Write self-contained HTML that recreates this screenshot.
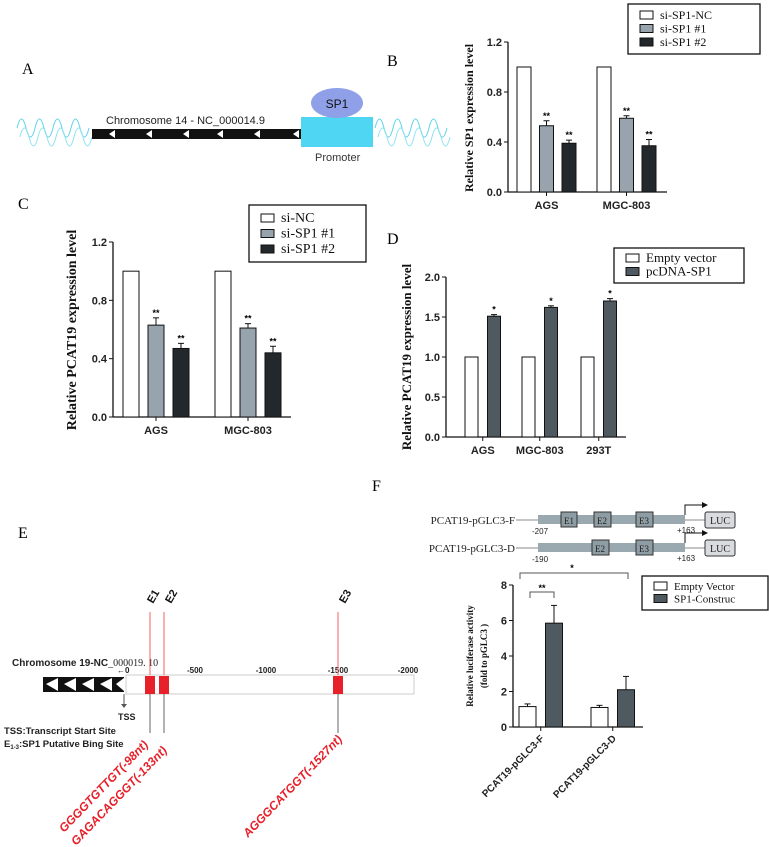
<!DOCTYPE html>
<html><head><meta charset="utf-8"><style>
html,body{margin:0;padding:0;background:#fff}
svg{display:block}
.serif{font-family:"Liberation Serif",serif}
.sans{font-family:"Liberation Sans",sans-serif}
.tick{font-family:"Liberation Sans",sans-serif;font-weight:bold;fill:#222}
</style></head><body>
<svg id="fig" width="769" height="847" viewBox="0 0 769 847" xmlns="http://www.w3.org/2000/svg">
<!-- Panel A -->
<g>
<text x="22" y="74" class="serif" font-size="16">A</text>
<path d="M17,128 q4.5,-18 9,0 t9,0 t9,0 t9,0 t9,0 t9,0 t9,0 t9,0" fill="none" stroke="#5fd3e8" stroke-width="1"/>
<path d="M20,137 q4.5,-18 9,0 t9,0 t9,0 t9,0 t9,0 t9,0 t9,0 t9,0" fill="none" stroke="#8fe3f0" stroke-width="1"/>
<path d="M375,128 q4.5,-18 9,0 t9,0 t9,0 t9,0 t9,0 t9,0 t9,0 t9,0" fill="none" stroke="#5fd3e8" stroke-width="1"/>
<path d="M378,137 q4.5,-18 9,0 t9,0 t9,0 t9,0 t9,0 t9,0 t9,0 t9,0" fill="none" stroke="#8fe3f0" stroke-width="1"/>
<rect x="92" y="129" width="209" height="10" fill="#111"/>
<g fill="#fff">
<polygon points="115,130 109,134 115,138"/><polygon points="152,130 146,134 152,138"/><polygon points="189,130 183,134 189,138"/><polygon points="223,130 217,134 223,138"/><polygon points="260,130 254,134 260,138"/><polygon points="299,130 293,134 299,138"/>
</g>
<text x="106" y="124" class="sans" font-size="11" fill="#222">Chromosome 14 - NC_000014.9</text>
<rect x="301" y="117" width="72" height="30" fill="#4fd6f2"/>
<ellipse cx="337" cy="103" rx="26" ry="15" fill="#8fa0e8"/>
<text x="337" y="108" text-anchor="middle" class="sans" font-size="12" fill="#111">SP1</text>
<text x="315" y="161" class="sans" font-size="11" fill="#333">Promoter</text>
</g>
<text x="387" y="66" class="serif" font-size="16">B</text>
<text x="18" y="209" class="serif" font-size="16">C</text>
<text x="387" y="244" class="serif" font-size="16">D</text>
<text x="18" y="538" class="serif" font-size="16">E</text>
<text x="372" y="491" class="serif" font-size="16">F</text>

<!-- Panel E -->
<g>
<text x="12" y="666" class="sans" font-size="10" font-weight="bold" fill="#222">Chromosome 19-NC<tspan class="serif" font-weight="normal">_000019. 10</tspan></text>
<text x="117" y="673" class="tick" style="font-size:8px">←0</text>
<text x="195" y="673" class="tick" style="font-size:8px" text-anchor="middle">-500</text>
<text x="266" y="673" class="tick" style="font-size:8px" text-anchor="middle">-1000</text>
<text x="338" y="673" class="tick" style="font-size:8px" text-anchor="middle">-1500</text>
<text x="408" y="673" class="tick" style="font-size:8px" text-anchor="middle">-2000</text>
<rect x="126" y="675" width="288" height="19" fill="#fff" stroke="#ccc"/>
<rect x="43" y="677" width="81" height="15" fill="#111"/>
<g fill="#fff"><polygon points="58,678 46,684 58,691"/><polygon points="76,678 64,684 76,691"/><polygon points="94,678 82,684 94,691"/><polygon points="112,678 100,684 112,691"/><polygon points="124,678 116,684 124,691"/></g>
<line x1="124" y1="694" x2="124" y2="705" stroke="#555"/>
<polygon points="121,704 127,704 124,708" fill="#555"/>
<text x="118" y="720" class="sans" font-size="9" font-weight="bold" fill="#222">TSS</text>
<g stroke="#f06060" stroke-width="1">
<line x1="150" y1="675" x2="150" y2="612"/><line x1="164" y1="675" x2="164" y2="612"/><line x1="338" y1="675" x2="338" y2="612"/>
</g>
<g fill="#e8202a">
<rect x="145" y="676" width="10" height="18"/>
<rect x="159" y="676" width="10" height="18"/>
<rect x="333" y="676" width="10" height="18"/>
</g>
<g stroke="#666"><line x1="150" y1="694" x2="150" y2="733"/><line x1="164" y1="694" x2="164" y2="733"/><line x1="338" y1="694" x2="338" y2="733"/></g>
<g class="sans" font-size="11" font-weight="bold" fill="#111">
<text transform="translate(153,604) rotate(-60)">E1</text>
<text transform="translate(171,604) rotate(-60)">E2</text>
<text transform="translate(345,604) rotate(-60)">E3</text>
</g>
<text x="4" y="734" class="sans" font-size="9.5" font-weight="bold" fill="#222">TSS:Transcript Start Site</text>
<text x="4" y="747" class="sans" font-size="9.5" font-weight="bold" fill="#222">E<tspan font-size="6" dy="2">1-3</tspan><tspan dy="-2">:SP1 Putative Bing Site</tspan></text>
<g class="sans" font-size="12" font-weight="bold" font-style="italic" fill="#e8202a">
<text transform="translate(64,833) rotate(-46)">GGGGTGTTGT(-98nt)</text>
<text transform="translate(76,846) rotate(-46)">GAGACAGGGT(-133nt)</text>
<text transform="translate(248,838) rotate(-46)">AGGGCATGGT(-1527nt)</text>
</g>
</g>

<!-- Panel F constructs -->
<g class="serif">
<text x="515" y="524" text-anchor="end" font-size="11" fill="#222">PCAT19-pGLC3-F</text>
<line x1="516" y1="520" x2="538" y2="520" stroke="#888"/>
<rect x="538" y="515" width="147" height="9" fill="#9aa8b0"/>
<rect x="561" y="512" width="16" height="15" fill="#8e9ca4" stroke="#333"/>
<rect x="594" y="512" width="17" height="15" fill="#8e9ca4" stroke="#333"/>
<rect x="636" y="512" width="17" height="15" fill="#8e9ca4" stroke="#333"/>
<text x="569" y="524" text-anchor="middle" font-size="9" fill="#222">E1</text><text x="602" y="524" text-anchor="middle" font-size="9" fill="#222">E2</text><text x="644" y="524" text-anchor="middle" font-size="9" fill="#222">E3</text>
<polyline points="685,515 685,505 703,505" fill="none" stroke="#111"/><polygon points="702,502 708,505 702,508" fill="#111"/>
<line x1="685" y1="520" x2="705" y2="520" stroke="#888"/>
<rect x="705" y="512" width="30" height="16" rx="2" fill="#d8dcdf" stroke="#333"/>
<text x="720" y="524" text-anchor="middle" font-size="10" fill="#222">LUC</text>
<text x="532" y="534" font-size="8" class="sans" fill="#222">-207</text><text x="677" y="533" font-size="8" class="sans" fill="#222">+163</text>

<text x="515" y="552" text-anchor="end" font-size="11" fill="#222">PCAT19-pGLC3-D</text>
<line x1="516" y1="548" x2="538" y2="548" stroke="#888"/>
<rect x="538" y="543" width="147" height="9" fill="#9aa8b0"/>
<rect x="592" y="540" width="17" height="15" fill="#8e9ca4" stroke="#333"/>
<rect x="636" y="540" width="17" height="15" fill="#8e9ca4" stroke="#333"/>
<text x="600" y="552" text-anchor="middle" font-size="9" fill="#222">E2</text><text x="644" y="552" text-anchor="middle" font-size="9" fill="#222">E3</text>
<polyline points="685,543 685,533 703,533" fill="none" stroke="#111"/><polygon points="702,530 708,533 702,536" fill="#111"/>
<line x1="685" y1="548" x2="705" y2="548" stroke="#888"/>
<rect x="705" y="540" width="30" height="16" rx="2" fill="#d8dcdf" stroke="#333"/>
<text x="720" y="552" text-anchor="middle" font-size="10" fill="#222">LUC</text>
<text x="532" y="562" font-size="8" class="sans" fill="#222">-190</text><text x="677" y="561" font-size="8" class="sans" fill="#222">+163</text>
</g>
<g id="charts"></g>
</svg>
<script>
// Panel B data
const bCats = ["AGS", "MGC-803"];
const bNC = [1.0, 1.0];
const bSi1 = [0.53, 0.59];
const bSi2 = [0.39, 0.37];
const bErr1 = [0.04, 0.02];
const bErr2 = [0.025, 0.05];
const bTicks = [0, 0.4, 0.8, 1.2];
// Panel C data
const cCats = ["AGS", "MGC-803"];
const cNC = [1.0, 1.0];
const cSi1 = [0.63, 0.61];
const cSi2 = [0.47, 0.44];
const cErr1 = [0.05, 0.03];
const cErr2 = [0.035, 0.045];
const cTicks = [0, 0.4, 0.8, 1.2];
// Panel D data
const dCats = ["AGS", "MGC-803", "293T"];
const dEmpty = [1.0, 1.0, 1.0];
const dSP1 = [1.51, 1.62, 1.70];
const dErr = [0.02, 0.02, 0.03];
const dTicks = [0, 0.5, 1.0, 1.5, 2.0];
// Panel F data
const fCats = ["PCAT19-pGLC3-F", "PCAT19-pGLC3-D"];
const fEmpty = [1.15, 1.1];
const fSP1 = [5.85, 2.1];
const fErrEmpty = [0.15, 0.12];
const fErrSP1 = [1.0, 0.75];
const fTicks = [0, 2, 4, 6, 8];

const NS = "http://www.w3.org/2000/svg";
const root = document.getElementById("charts");
function mk(tag, attrs, parent) {
  const e = document.createElementNS(NS, tag);
  for (const k in attrs) e.setAttribute(k, attrs[k]);
  (parent || root).appendChild(e);
  return e;
}
function chart(o) {
  const g = mk("g", {});
  
  
  const y = v => o.y0 - (v / o.max) * (o.y0 - o.y1);
  mk("line", {x1: o.ax, y1: o.y1, x2: o.ax, y2: o.y0, stroke: "#111", "stroke-width": 1.3}, g);
  mk("line", {x1: o.ax, y1: o.y0, x2: o.axEnd, y2: o.y0, stroke: "#111", "stroke-width": 1.3}, g);
  o.ticks.forEach(t => {
    mk("line", {x1: o.ax - 4, y1: y(t), x2: o.ax, y2: y(t), stroke: "#111"}, g);
    const tx = mk("text", {x: o.ax - 6, y: y(t) + 4, "text-anchor": "end", class: "tick", style: "font-size:11px"}, g);
    
    
    tx.textContent = o.fmt(t);
  });
  o.cats.forEach((c, i) => {
    const xs = o.groupX[i];
    o.series.forEach((s, j) => {
      const x = xs + j * o.step;
      const v = s.vals[i];
      const r = mk("rect", {x: x, y: y(v), width: o.bw, height: o.y0 - y(v), fill: s.fill, stroke: "#111", "stroke-width": 1}, g);
      
      
      if (s.err) {
        const cx = x + o.bw / 2, top = y(v + s.err[i]);
        mk("line", {x1: cx, y1: y(v), x2: cx, y2: top, stroke: "#111"}, g);
        mk("line", {x1: cx - 3, y1: top, x2: cx + 3, y2: top, stroke: "#111"}, g);
        if (s.star) {
          const st = mk("text", {x: cx, y: top - 2, "text-anchor": "middle", class: "sans", "font-size": 9, "font-weight": "bold"}, g);
          
          
          st.textContent = s.star;
        }
      }
    });
    const gx = xs + (o.series.length * o.step - (o.step - o.bw)) / 2;
    mk("line", {x1: gx, y1: o.y0, x2: gx, y2: o.y0 + 4, stroke: "#111"}, g);
    if (o.rot) {
      const lt = mk("text", {transform: "translate(" + (gx + 4) + "," + (o.y0 + 12) + ") rotate(-45)", "text-anchor": "end", class: "tick", style: "font-size:10px"}, g);
      
      
      lt.textContent = c;
    } else {
      const lt = mk("text", {x: gx, y: o.y0 + 17, "text-anchor": "middle", class: "tick", style: "font-size:11px"}, g);
      
      
      lt.textContent = c;
    }
  });
  o.ylabel.forEach((t, k) => {
    const yl = mk("text", {transform: "translate(" + (o.ylx + k * 14) + "," + o.ylc + ") rotate(-90)", "text-anchor": "middle", class: "serif", "font-size": o.ylfs, "font-weight": "bold", fill: "#111"}, g);
    
    
    yl.textContent = t;
  });
  const lg = mk("g", {}, g);
  
  
  mk("rect", {x: o.leg[0], y: o.leg[1], width: o.leg[2], height: o.leg[3], fill: "#fff", stroke: "#111", "stroke-width": 1.3}, lg);
  o.series.forEach((s, j) => {
    const ly = o.leg[1] + o.legPad + j * o.legStep;
    mk("rect", {x: o.leg[0] + 12, y: ly - 8, width: 13, height: 8, fill: s.fill, stroke: "#111"}, lg);
    const lt = mk("text", {x: o.leg[0] + 32, y: ly, class: "serif", "font-size": o.legfs, fill: "#111"}, lg);
    
    
    lt.textContent = s.label;
  });
  return {g: g, y: y};
}
const f2 = t => t.toFixed(1);
chart({name: "panel-b-chart", ax: 508, axEnd: 667, y0: 192, y1: 42, max: 1.2, ticks: bTicks, fmt: f2,
  cats: bCats, groupX: [517, 597], step: 22.5, bw: 14,
  series: [{key: "nc", label: "si-SP1-NC", fill: "#fff", vals: bNC},
           {key: "si1", label: "si-SP1 #1", fill: "#97a4ad", vals: bSi1, err: bErr1, star: "**"},
           {key: "si2", label: "si-SP1 #2", fill: "#22282c", vals: bSi2, err: bErr2, star: "**"}],
  ylabel: ["Relative SP1 expression level"], ylx: 473, ylc: 118, ylfs: 12,
  leg: [628, 4, 132, 50], legPad: 15, legStep: 13.5, legfs: 12});
chart({name: "panel-c-chart", ax: 113, axEnd: 291, y0: 417, y1: 242, max: 1.2, ticks: cTicks, fmt: f2,
  cats: cCats, groupX: [123, 215], step: 25, bw: 16,
  series: [{key: "nc", label: "si-NC", fill: "#fff", vals: cNC},
           {key: "si1", label: "si-SP1 #1", fill: "#97a4ad", vals: cSi1, err: cErr1, star: "**"},
           {key: "si2", label: "si-SP1 #2", fill: "#22282c", vals: cSi2, err: cErr2, star: "**"}],
  ylabel: ["Relative PCAT19 expression level"], ylx: 76, ylc: 330, ylfs: 14,
  leg: [249, 205, 117, 57], legPad: 17, legStep: 15.5, legfs: 14});
chart({name: "panel-d-chart", ax: 446, axEnd: 626, y0: 437, y1: 277, max: 2.0, ticks: dTicks, fmt: f2,
  cats: dCats, groupX: [465, 522, 581], step: 22.5, bw: 13,
  series: [{key: "empty", label: "Empty vector", fill: "#fff", vals: dEmpty},
           {key: "sp1", label: "pcDNA-SP1", fill: "#4f5a60", vals: dSP1, err: dErr, star: "*"}],
  ylabel: ["Relative PCAT19 expression level"], ylx: 411, ylc: 357, ylfs: 13,
  leg: [614, 248, 130, 35], legPad: 14, legStep: 13.5, legfs: 13});
chart({name: "panel-f-chart", ax: 513, axEnd: 643, y0: 727, y1: 585, max: 8, ticks: fTicks, fmt: t => String(t),
  cats: fCats, groupX: [519, 591], step: 26.5, bw: 17, rot: true,
  series: [{key: "empty", label: "Empty Vector", fill: "#fff", vals: fEmpty, err: fErrEmpty},
           {key: "sp1", label: "SP1-Construc", fill: "#4f5a60", vals: fSP1, err: fErrSP1}],
  ylabel: ["Relative luciferase activity", "(fold to pGLC3 )"], ylx: 473, ylc: 656, ylfs: 9,
  leg: [642, 576, 126, 34], legPad: 14, legStep: 12.5, legfs: 11});
// brackets
const br1 = mk("polyline", {points: "530,598 530,592 554,592 554,598", fill: "none", stroke: "#555"});


const s1 = mk("text", {x: 542, y: 591, "text-anchor": "middle", class: "sans", "font-size": 9, "font-weight": "bold"});


s1.textContent = "**";
const br2 = mk("polyline", {points: "520,579 520,573 628,573 628,579", fill: "none", stroke: "#555"});


const s2 = mk("text", {x: 572, y: 571, "text-anchor": "middle", class: "sans", "font-size": 9, "font-weight": "bold"});


s2.textContent = "*";
</script>
</body></html>
